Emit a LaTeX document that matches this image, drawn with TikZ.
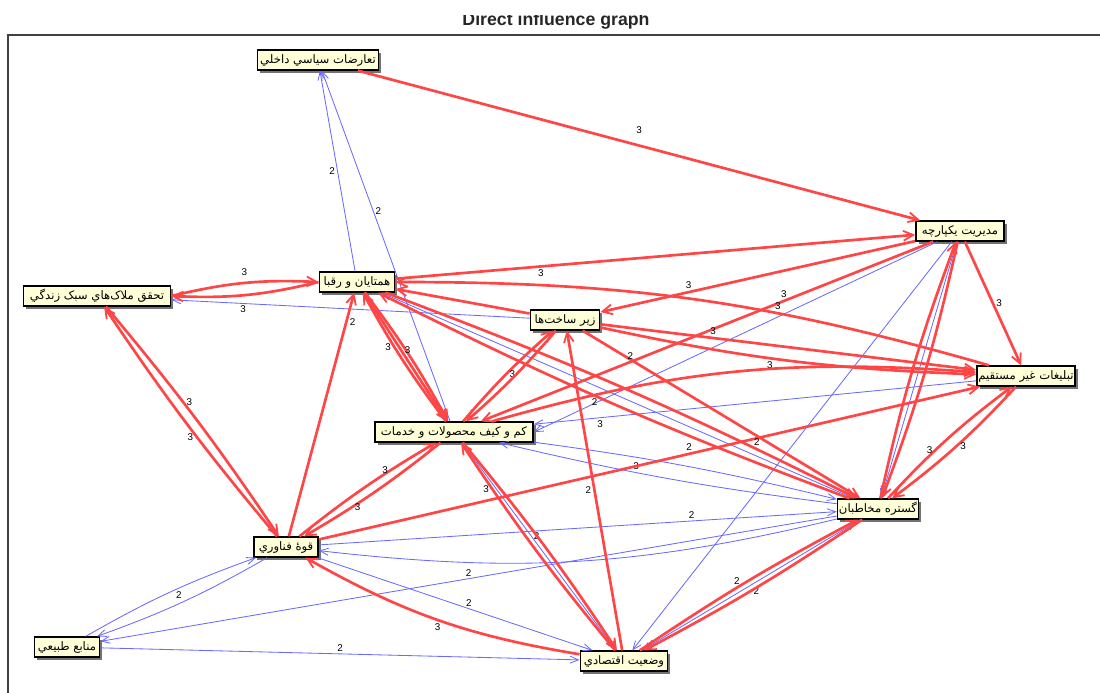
\documentclass[tikz,border=0pt]{standalone}
\usepackage{fontspec}
\usetikzlibrary{arrows.meta,shadows}
\setmainfont{Liberation Sans}
\newfontfamily\arabicfont[Script=Arabic]{DejaVu Sans}
\TeXXeTstate=1
\definecolor{boxfill}{HTML}{FFFFD8}
\definecolor{redl}{HTML}{FF4646}
\definecolor{bluel}{HTML}{6A6AFF}
\tikzset{
  box/.style={draw=black, line width=1.2pt, fill=boxfill, inner xsep=1pt, inner ysep=0pt,
    minimum height=0.49cm, font=\arabicfont\fontsize{8.3}{9}\selectfont,
    drop shadow={shadow xshift=2pt, shadow yshift=-2pt, fill=black!55, opacity=1}},
  re/.style={draw=redl, line width=1.9pt, -{Straight Barb[length=7pt,width=7pt,line width=1.3pt]}},
  bl/.style={draw=bluel, line width=0.6pt, -{Straight Barb[length=6pt,width=5pt,line width=0.6pt]}},
  lbl/.style={font=\fontsize{7}{8}\selectfont, inner sep=1.5pt, text=black},
}
\begin{document}
\begin{tikzpicture}[x={(0.025cm,0)}, y={(0,-0.025cm)}]
\useasboundingbox (0,0) rectangle (1100,692);
\node[font=\bfseries\fontsize{12.6}{14}\selectfont, anchor=base, text=black!85] (title) at (556,25.5) {Direct influence graph};
\fill[white] (0,0) rectangle (1100,14.5);
\draw[line width=1.1pt, black!75] (8,35) rectangle (1120,720);

% nodes
\node[box, minimum width=3.03cm] (T) at (318,60) {\beginR تعارضات سياسي داخلي\endR};
\node[box, minimum width=2.2cm] (M) at (960,231) {\beginR مديريت يکپارچه\endR};
\node[box, minimum width=3.68cm] (L) at (97,296) {\beginR تحقق ملاک‌هاي سبک زندگي\endR};
\node[box, minimum width=1.88cm] (H) at (357,282) {\beginR همتايان و رقبا\endR};
\node[box, minimum width=1.73cm] (Z) at (565,320) {\beginR زير ساخت‌ها\endR};
\node[box, minimum width=2.45cm] (B) at (1026,376) {\beginR تبليغات غير مستقيم\endR};
\node[box, minimum width=3.95cm] (K) at (454,432) {\beginR کم و کيف محصولات و خدمات\endR};
\node[box, minimum width=2.0cm] (G) at (878,509) {\beginR گستره مخاطبان\endR};
\node[box, minimum width=1.6cm] (F) at (286,547) {\beginR قوهٔ فناوري\endR};
\node[box, minimum width=1.63cm] (N) at (67,647) {\beginR منابع طبيعي\endR};
\node[box, minimum width=2.18cm] (V) at (624,661) {\beginR وضعيت اقتصادي\endR};

% blue edges
\draw[bl] (H) -- node[lbl, pos=.5, left] {2} (T);
\draw[bl] (K) -- node[lbl, pos=.6, right] {2} (T);
\draw[bl] (Z) -- node[lbl, pos=.8, below] {3} (L);
\draw[bl] (G) -- (H);
\draw[bl] (B) -- node[lbl, pos=.85, below] {3} (K);
\draw[bl] (G) to[bend left=3] node[lbl, pos=.6, above] {3} (K);
\draw[bl] (K) to[bend left=3] (G);
\draw[bl] (M) -- (K.east);
\draw[bl] (M) -- (V);
\draw[bl] (M) -- (G);
\draw[bl] (F) to[bend left=5] node[lbl, pos=.5, above left] {2} (N);
\draw[bl] (N) to[bend left=5] (F);
\draw[bl] (G) to[bend left=10] (F);
\draw[bl] (F) -- node[lbl, pos=.72, above] {2} (G);
\draw[bl] (G) -- node[lbl, pos=.5, above] {2} (N);
\draw[bl] (N) -- node[lbl, pos=.5, above] {2} (V);
\draw[bl] (F) -- node[lbl, pos=.55, above] {2} (V);
\draw[bl] (K) -- node[lbl, pos=.45, right] {2} (V);
\draw[bl] (G) -- node[lbl, pos=.5, below right] {2} (V);

% red edges
\draw[re] (T) -- node[lbl, pos=.5, above=6pt] {3} (M);
\draw[re] (L.east) to[bend left=8] node[lbl, pos=.5, above=3pt] {3} (H.west);
\draw[re] (H.west) to[bend left=8] (L.east);
\draw[re] (H) -- node[lbl, pos=.28, below] {3} (M);
\draw[re] (M) -- node[lbl, pos=.72, above] {3} (Z);
\draw[re] (M) -- node[lbl, pos=.33, above] {3} (K);
\draw[re] (M) -- node[lbl, pos=.5, right] {3} (B);
\draw[re] (M) to[bend left=4] (G);
\draw[re] (G) to[bend left=4] (M);
\draw[re] (B) to[bend right=8] node[lbl, pos=.35, above] {3} (H);
\draw[re] (Z) -- node[lbl, pos=.3, above] {3} (B);
\draw[re] (Z) to[bend right=5] node[lbl, pos=.45, below] {3} (B);
\draw[re] (K) to[bend left=10] node[lbl, pos=.2, below] {2} (B);
\draw[re] (F) -- node[lbl, pos=.56, above] {2} (B);
\draw[re] (G) to[bend left=5] node[lbl, pos=.4, left] {3} (B);
\draw[re] (B) to[bend left=5] node[lbl, pos=.5, right] {3} (G);
\draw[re] (H) to[bend left=4] (K);
\draw[re] (K) to[bend left=4] node[lbl, pos=.6, left] {3} (H);
\draw[re] (H) -- node[lbl, pos=.45, right] {3} (K);
\draw[re] (K) to[bend left=4] node[lbl, pos=.5, right] {3} (Z);
\draw[re] (Z) to[bend left=4] (K);
\draw[re] (K) to[bend left=4] node[lbl, pos=.68, right] {3} (F);
\draw[re] (F) to[bend left=4] node[lbl, pos=.7, left] {3} (K);
\draw[re] (K) to[bend left=3] (V);
\draw[re] (V) to[bend left=3] node[lbl, pos=.8, left] {3} (K);
\draw[re] (F) -- node[lbl, pos=.88, right] {2} (H);
\draw[re] (Z) -- node[lbl, pos=.15, right] {2} (G);
\draw[re] (H) to[bend left=3] node[lbl, pos=.8, above] {2} (G);
\draw[re] (G) to[bend left=3] (H);
\draw[re] (Z) -- (H);
\draw[re] (V) -- node[lbl, pos=.5, left] {2} (Z);
\draw[re] (F) to[bend left=3] node[lbl, pos=.44, left] {3} (L);
\draw[re] (L) to[bend left=3] node[lbl, pos=.42, right] {3} (F);
\draw[re] (V) to[bend left=10] node[lbl, pos=.5, below] {3} (F);
\draw[re] (V) to[bend left=3] node[lbl, pos=.45, above] {2} (G);
\draw[re] (G) to[bend left=3] (V);
\end{tikzpicture}
\end{document}
